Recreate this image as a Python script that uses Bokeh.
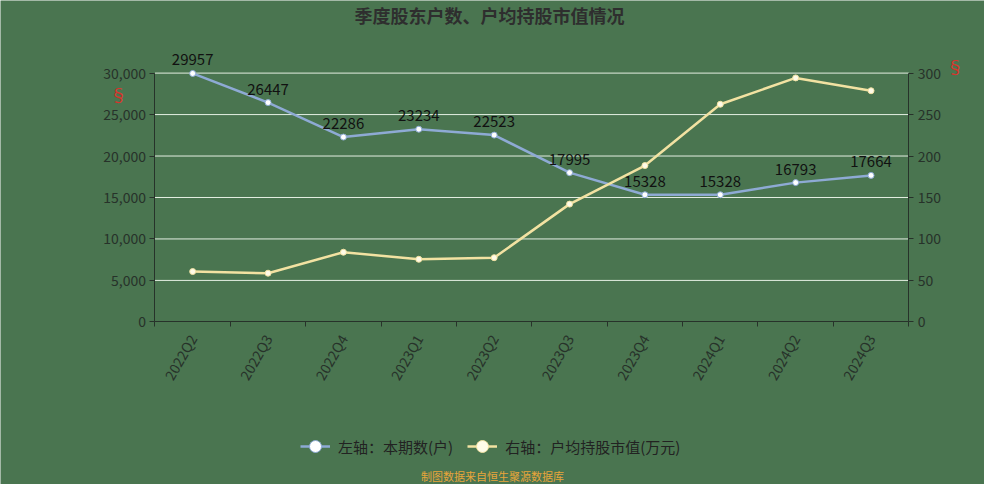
from bokeh.plotting import figure
from bokeh.models import (Range1d, LinearAxis, FixedTicker, NumeralTickFormatter,
                          ColumnDataSource, LabelSet, Label, Legend, LegendItem)
from bokeh.core.properties import value
from bokeh.embed import file_html
from bokeh.resources import INLINE
import math

categories = ["2022Q2", "2022Q3", "2022Q4", "2023Q1", "2023Q2",
              "2023Q3", "2023Q4", "2024Q1", "2024Q2", "2024Q3"]
holders = [29957, 26447, 22286, 23234, 22523, 17995, 15328, 15328, 16793, 17664]
avg_value = [60.7, 58.7, 84.0, 75.5, 77.4, 142.0, 188.5, 262.4, 294.2, 278.7]
left_ticks = [0, 5000, 10000, 15000, 20000, 25000, 30000]
right_ticks = [0, 50, 100, 150, 200, 250, 300]

FONT = "Noto Sans CJK SC"
BG = "#4a7550"
AXIS = "#27322a"
BLUE = "#8eaad4"
YELLOW = "#f2e2a2"

W, H = 984, 484
SX, SY = W / 1000, H / 500
# plot-area edges in canvas pixels
X0, X1 = 157 * SX, 923 * SX
YT, YB = 75 * SY, 332 * SY
n = len(categories)
LMAX, RMAX = left_ticks[-1], right_ticks[-1]
ppx = (X1 - X0) / n
ppy = (YB - YT) / LMAX
x_start, x_end = -X0 / ppx, n + (W - X1) / ppx
y_start, y_end = -(H - YB) / ppy, LMAX + YT / ppy
k = LMAX / RMAX

xs = [i + 0.5 for i in range(n)]
src = ColumnDataSource(dict(x=xs, h=holders, v=avg_value,
                            lab=[str(h) for h in holders]))

p = figure(width=W, height=H, output_backend="svg", toolbar_location=None,
           title=None, x_range=Range1d(x_start, x_end), y_range=Range1d(y_start, y_end),
           x_axis_location=None, y_axis_location=None,
           min_border=0, min_border_left=0, min_border_right=0,
           min_border_top=0, min_border_bottom=0)
p.background_fill_color = BG
p.border_fill_color = BG
p.outline_line_color = None
p.extra_y_ranges = {"r": Range1d(y_start / k, y_end / k)}
p.xgrid.visible = False
p.ygrid.visible = False

# grid lines across the plot area
gl = ColumnDataSource(dict(y=left_ticks[1:], x0=[0] * (len(left_ticks) - 1),
                           x1=[n] * (len(left_ticks) - 1)))
p.segment(x0="x0", x1="x1", y0="y", y1="y", source=gl, line_color="#e4efe2", line_width=1)

# bottom axis: labels at category centers, ticks at boundaries
xa = LinearAxis(ticker=FixedTicker(ticks=xs, minor_ticks=list(range(n + 1))),
                fixed_location=0, bounds=(0, n))
xa.major_label_overrides = {x: c for x, c in zip(xs, categories)}
xa.major_tick_out = 0
xa.major_tick_in = 0
xa.minor_tick_out = 5
xa.minor_tick_in = 0
xa.minor_tick_line_color = AXIS
xa.axis_line_color = AXIS
xa.major_label_orientation = math.pi / 3
xa.major_label_text_font = FONT
xa.major_label_text_font_size = "14px"
xa.major_label_text_color = AXIS
xa.major_label_standoff = 9
p.add_layout(xa, "below")

ya = LinearAxis(ticker=FixedTicker(ticks=left_ticks), formatter=NumeralTickFormatter(format="0,0"),
                fixed_location=0, bounds=(0, LMAX))
yr = LinearAxis(y_range_name="r", ticker=FixedTicker(ticks=right_ticks),
                fixed_location=n, bounds=(0, RMAX))
for ax in (ya, yr):
    ax.major_tick_out = 5
    ax.major_tick_in = 0
    ax.minor_tick_line_color = None
    ax.axis_line_color = AXIS
    ax.major_tick_line_color = AXIS
    ax.major_label_text_font = FONT
    ax.major_label_text_font_size = "14px"
    ax.major_label_text_color = AXIS
    ax.major_label_standoff = 4
p.add_layout(ya, "left")
p.add_layout(yr, "right")

# series
l1 = p.line("x", "h", source=src, line_color=BLUE, line_width=2.5)
s1 = p.scatter("x", "h", source=src, size=6, fill_color="white", line_color=BLUE, line_width=1)
l2 = p.line("x", "v", source=src, y_range_name="r", line_color=YELLOW, line_width=2.5)
s2 = p.scatter("x", "v", source=src, y_range_name="r", size=6, fill_color="#fffbe8",
               line_color=YELLOW, line_width=1)

labels = LabelSet(x="x", y="h", text="lab", source=src, y_offset=8,
                  text_align="center", text_baseline="bottom",
                  text_font=value(FONT), text_font_size="15px", text_color="#111111")
p.add_layout(labels)

legend = Legend(items=[LegendItem(label="左轴：本期数(户)", renderers=[l1, s1]),
                       LegendItem(label="右轴：户均持股市值(万元)", renderers=[l2, s2])],
                orientation="horizontal", location=(300, H - 461 * SY - 15),
                glyph_width=30, glyph_height=30, label_standoff=8, spacing=14,
                padding=0, margin=0, border_line_color=None, background_fill_alpha=0,
                label_text_font=FONT, label_text_font_size="15px", label_text_color="#222222")
p.add_layout(legend, "center")

# title, axis icons, footer
p.add_layout(Label(x=497 * SX, y=H - 15 * SY, x_units="screen", y_units="screen",
                   text="季度股东户数、户均持股市值情况", text_align="center", text_baseline="middle",
                   text_font=FONT, text_font_size="18px", text_font_style="bold",
                   text_color="#2e2e2e"))
p.add_layout(Label(x=120 * SX, y=H - 97 * SY, x_units="screen", y_units="screen", text="§",
                   text_align="center", text_baseline="middle", text_font=FONT,
                   text_font_size="18px", text_color="#d8342c"))
p.add_layout(Label(x=970 * SX, y=H - 68 * SY, x_units="screen", y_units="screen", text="§",
                   text_align="center", text_baseline="middle", text_font=FONT,
                   text_font_size="18px", text_color="#d8342c"))
p.add_layout(Label(x=500 * SX, y=H - 491 * SY, x_units="screen", y_units="screen",
                   text="制图数据来自恒生聚源数据库", text_align="center", text_baseline="middle",
                   text_font=FONT, text_font_size="11px", text_color="#e8a53a"))

open("out.html", "w").write(file_html(p, INLINE))
